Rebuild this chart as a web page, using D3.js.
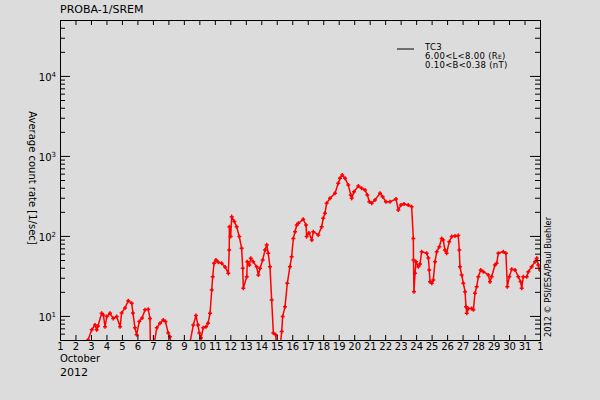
<!DOCTYPE html>
<html>
<head>
<meta charset="utf-8">
<script src="https://cdn.jsdelivr.net/npm/d3@7"></script>
<style>
body { margin: 0; background: #dcdcdc; }
text { font-family: "DejaVu Sans", sans-serif; fill: #000; }
</style>
</head>
<body>
<svg id="chart"></svg>
<script>

// --> DATA (October 2012, day of month, average count rate)

var days = [2.68,2.81,3.05,3.26,3.37,3.45,3.69,3.80,3.91,4.02,4.23,4.44,4.66,4.88,4.98,5.20,5.41,5.63,5.71,5.84,5.95,6.12,6.30,6.49,6.70,6.81,6.84,
    7.04,7.25,7.46,7.67,7.81,7.99,8.10,8.23,8.80,
    9.33,9.61,9.78,9.91,10.00,10.11,10.25,10.43,10.56,10.69,10.80,10.86,10.95,11.07,11.22,11.44,11.66,11.87,11.93,11.94,
    12.02,12.09,12.26,12.41,12.58,12.73,12.80,12.84,13.06,13.10,13.23,13.32,13.48,13.70,13.81,13.92,14.09,14.24,14.35,14.45,
    14.56,14.67,14.78,14.93,14.98,
    15.21,15.32,15.38,15.53,15.68,15.85,15.96,16.07,16.18,16.29,16.39,16.71,16.89,16.93,17.08,17.26,17.36,17.68,17.90,18.00,
    18.11,18.22,18.44,18.76,18.97,19.08,19.23,19.41,19.62,19.78,19.84,19.99,20.27,20.48,20.70,20.85,20.98,21.13,21.34,21.67,
    21.84,22.05,22.31,22.70,22.85,23.02,23.22,23.49,23.71,23.82,23.83,23.86,23.93,23.99,24.14,24.25,24.36,24.68,24.79,24.85,
    24.90,25.01,25.11,25.22,25.33,25.50,25.65,25.75,25.86,25.97,26.14,26.30,26.51,26.72,26.79,26.83,26.94,27.05,27.16,27.22,
    27.27,27.37,27.59,27.70,27.80,27.91,28.02,28.17,28.34,28.66,28.77,28.88,29.09,29.20,29.31,29.63,29.80,29.89,30.02,30.17,
    30.39,30.60,30.75,30.82,30.92,31.14,31.25,31.46,31.68,31.79,31.89,32.0];

var rates = [4,5,6.7,7.7,6.7,7.5,10.8,10.3,7.3,9.8,10.8,9.3,9.8,7.3,10.9,12.6,15.5,14.4,10.9,7.1,5.8,8.5,9.4,11.9,12.1,9.3,4,
    4,7.1,8.1,8.9,8.5,6.1,5.5,4,3,
    4,7.7,10.1,7.7,6.1,5.3,7.1,7.3,8.1,10.8,21.1,30.9,45.5,50,47,45.5,40.9,34.1,66.7,130,
    98,174,151,130,98,70,39.4,22.1,30.9,47.6,43.3,52.5,47.6,41.2,32.5,39.4,50,66.7,77,60.6,
    41.2,15.8,6.1,5.8,4,
    4,6.4,9.8,13,25.6,41.2,55,93,113,137,144,161,137,98,109,89,113,103,130,166,
    192,256,295,341,455,525,577,525,432,324,295,357,421,394,375,324,268,256,281,341,
    309,268,268,289,211,243,250,243,232,93,50,20.1,34.1,47.6,41.2,44.6,63.6,60.6,53,37.5,
    26.8,25.6,28.1,47.6,63.6,73.3,93,89,66.7,60.6,84.7,98,100,101,66.7,41.2,32.5,25.6,20.1,13,
    10.8,12.4,12.4,11.9,19.2,23.2,30.9,37.5,35.7,32.5,26.8,30.9,43.3,45.5,60.6,63.6,60.6,23.2,30.9,38.3,
    37.5,30.9,26.8,22.1,30.9,30.9,35.7,41.2,47.6,52.5,43.3,37.5];

var dayTicks = d3.range(1, 33);
var dayLabels = dayTicks.map(function (d) { return d > 31 ? "1" : String(d); });
var majorTicks = [10, 100, 1000, 10000];
var minorTicks = [6, 7, 8, 9, 20, 30, 40, 50, 60, 70, 80, 90, 200, 300, 400, 500, 600, 700, 800, 900,
    2000, 3000, 4000, 5000, 6000, 7000, 8000, 9000, 20000, 30000, 40000];

var legendLines = ["TC3", "6.00<L<8.00 (R", "0.10<B<0.38 (nT)"];

// --> SVG

var width = 600,
    height = 400;
var plotLeft = 60, plotRight = 540, plotTop = 20, plotBottom = 340;

var svg = d3.select("#chart")
    .attr("width", width)
    .attr("height", height);

svg.append("rect")
    .attr("width", width)
    .attr("height", height)
    .attr("fill", "#dcdcdc");

var x = d3.scaleLinear().domain([1, 32]).range([plotLeft, plotRight]);
var y = d3.scaleLog().domain([5, 50000]).range([plotBottom, plotTop]);

svg.append("clipPath").attr("id", "clip")
    .append("rect")
    .attr("x", plotLeft).attr("y", plotTop)
    .attr("width", plotRight - plotLeft).attr("height", plotBottom - plotTop);

var points = days.map(function (d, i) { return [d, rates[i]]; });

var line = d3.line()
    .x(function (d) { return x(d[0]); })
    .y(function (d) { return y(d[1]); });

var plot = svg.append("g").attr("clip-path", "url(#clip)");

plot.append("path")
    .datum(points)
    .attr("fill", "none")
    .attr("stroke", "#ff0000")
    .attr("stroke-width", 1.5)
    .attr("d", line);

plot.selectAll(".mark")
    .data(points)
    .enter()
    .append("path")
    .attr("class", "mark")
    .attr("transform", function (d) { return "translate(" + x(d[0]) + "," + y(d[1]) + ")"; })
    .attr("d", "M-2,0H2M0,-2V2")
    .attr("stroke", "#ff0000")
    .attr("stroke-width", 1.5);

// --> AXES

var fontSize = "10px";

var xBottom = svg.append("g")
    .attr("transform", "translate(0," + plotBottom + ")")
    .call(d3.axisBottom(x).tickValues(dayTicks).tickSize(-5).tickSizeOuter(0).tickPadding(3)
        .tickFormat(function (d, i) { return dayLabels[i]; }));

var xTop = svg.append("g")
    .attr("transform", "translate(0," + plotTop + ")")
    .call(d3.axisTop(x).tickValues(dayTicks).tickSize(-5).tickSizeOuter(0).tickFormat(""));

var yLeft = svg.append("g")
    .attr("transform", "translate(" + plotLeft + ",0)")
    .call(d3.axisLeft(y).tickValues(majorTicks).tickSize(-10).tickSizeOuter(0).tickPadding(4));

svg.append("g")
    .attr("transform", "translate(" + plotLeft + ",0)")
    .call(d3.axisLeft(y).tickValues(minorTicks).tickSize(-5).tickSizeOuter(0).tickFormat(""));

svg.append("g")
    .attr("transform", "translate(" + plotRight + ",0)")
    .call(d3.axisRight(y).tickValues(majorTicks).tickSize(-10).tickSizeOuter(0).tickFormat(""));

svg.append("g")
    .attr("transform", "translate(" + plotRight + ",0)")
    .call(d3.axisRight(y).tickValues(minorTicks).tickSize(-5).tickSizeOuter(0).tickFormat(""));

svg.selectAll(".domain, .tick line").attr("stroke", "#000");
svg.selectAll(".tick text")
    .style("font-family", "DejaVu Sans, sans-serif")
    .style("font-size", fontSize)
    .attr("fill", "#000");

yLeft.selectAll(".tick text").each(function (d) {
    var t = d3.select(this).attr("dy", "0.45em").text("10");
    t.append("tspan")
        .attr("dy", "-0.5em")
        .style("font-size", "7px")
        .text(Math.round(Math.log10(d)));
});

// --> LABELS

svg.append("text")
    .attr("x", 60).attr("y", 13)
    .style("font-size", "11px")
    .text("PROBA-1/SREM");

svg.append("text")
    .attr("x", 60).attr("y", 362)
    .style("font-size", fontSize)
    .text("October");

svg.append("text")
    .attr("x", 60).attr("y", 376)
    .style("font-size", "11px")
    .text("2012");

svg.append("text")
    .attr("transform", "translate(29,178) rotate(90)")
    .attr("text-anchor", "middle")
    .style("font-size", fontSize)
    .text("Average count rate [1/sec]");

svg.append("text")
    .attr("transform", "translate(551,337) rotate(-90)")
    .attr("textLength", 120)
    .attr("lengthAdjust", "spacingAndGlyphs")
    .style("font-size", "9px")
    .text("2012 \u00a9 PSI/ESA/Paul Buehler");

// --> LEGEND

svg.append("line")
    .attr("x1", 397).attr("x2", 414)
    .attr("y1", 49).attr("y2", 49)
    .attr("stroke", "#000");

var legend = svg.append("g")
    .style("font-size", "8.5px")
    .style("letter-spacing", "0.3px");

legend.selectAll("text")
    .data(legendLines)
    .enter()
    .append("text")
    .attr("x", 425)
    .attr("y", function (d, i) { return 50 + i * 9; })
    .text(function (d) { return d; });

legend.select("text:nth-child(2)")
    .append("tspan").attr("dy", "0.05em").style("font-size", "6px").text("E");
legend.select("text:nth-child(2)")
    .append("tspan").attr("dy", "-0.05em").text(")");

</script>
</body>
</html>
